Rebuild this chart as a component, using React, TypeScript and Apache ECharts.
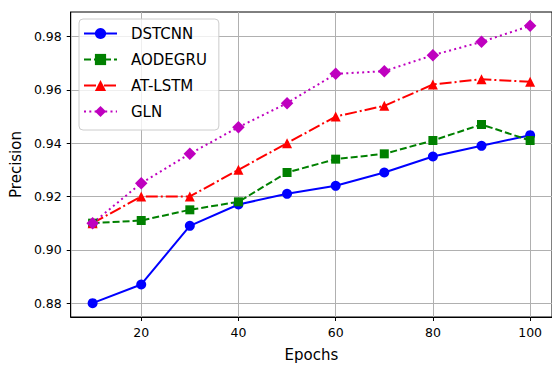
import React, { useEffect, useRef } from "react";
import * as echarts from "echarts";

const epochs = [10, 20, 30, 40, 50, 60, 70, 80, 90, 100];
const dstcnn = [0.88, 0.887, 0.909, 0.917, 0.921, 0.924, 0.929, 0.935, 0.939, 0.943];
const aodegru = [0.91, 0.911, 0.915, 0.918, 0.929, 0.934, 0.936, 0.941, 0.947, 0.941];
const atlstm = [0.91, 0.92, 0.92, 0.93, 0.94, 0.95, 0.954, 0.962, 0.964, 0.963];
const gln = [0.91, 0.925, 0.936, 0.946, 0.955, 0.966, 0.967, 0.973, 0.978, 0.984];
const xTicks = [20, 40, 60, 80, 100];
const yTicks = [0.88, 0.9, 0.92, 0.94, 0.96, 0.98];

const FONT = "DejaVu Sans";

function pairs(vals: number[]) {
  return epochs.map((e, i) => [e, vals[i]]);
}

export default function App() {
  const ref = useRef<HTMLDivElement>(null);
  useEffect(() => {
    if (!ref.current) return;
    const chart = echarts.init(ref.current, undefined, { renderer: "svg" });
    const mk = (name: string, data: number[], color: string, symbol: string, size: number, type: any) => ({
      name,
      type: "line",
      data: pairs(data),
      symbol,
      symbolSize: size,
      showSymbol: true,
      itemStyle: { color },
      lineStyle: { color, width: 2, type },
      emphasis: { disabled: true },
    });
    chart.setOption({
      animation: false,
      grid: {
        left: 70,
        top: 12,
        right: -4,
        bottom: 46,
        show: true,
        borderColor: "#000",
        borderWidth: 1,
        backgroundColor: "transparent",
      },
      legend: {
        orient: "vertical",
        left: 79,
        top: 19,
        padding: [7, 12, 11, 4],
        itemWidth: 33,
        itemHeight: 14,
        itemGap: 11,
        backgroundColor: "rgba(255,255,255,0.8)",
        borderColor: "#cccccc",
        borderWidth: 1,
        borderRadius: 4,
        textStyle: { fontFamily: FONT, fontSize: 15, color: "#000", padding: [0, 0, 0, 9] },
        data: ["DSTCNN", "AODEGRU", "AT-LSTM", "GLN"],
      },
      xAxis: {
        type: "value",
        min: 5.5,
        max: 104.5,
        name: "Epochs",
        nameLocation: "middle",
        nameGap: 30,
        nameTextStyle: { fontFamily: FONT, fontSize: 15, color: "#000" },
        axisLine: { show: true, lineStyle: { color: "#000", width: 1 } },
        axisTick: { show: true, length: 4, customValues: xTicks, lineStyle: { color: "#000" } },
        axisLabel: {
          customValues: xTicks,
          fontFamily: FONT,
          fontSize: 12.5,
          color: "#000",
          margin: 9,
        },
        splitLine: { show: true, lineStyle: { color: "#b0b0b0", width: 1 } },
      },
      yAxis: {
        type: "value",
        min: 0.8748,
        max: 0.9892,
        name: "Precision",
        nameLocation: "middle",
        nameGap: 46,
        nameTextStyle: { fontFamily: FONT, fontSize: 15, color: "#000" },
        axisLine: { show: true, lineStyle: { color: "#000", width: 1 } },
        axisTick: { show: true, length: 4, customValues: yTicks, lineStyle: { color: "#000" } },
        axisLabel: {
          customValues: yTicks,
          fontFamily: FONT,
          fontSize: 12.5,
          color: "#000",
          margin: 9,
          formatter: (v: number) => v.toFixed(2),
        },
        splitLine: { show: true, lineStyle: { color: "#b0b0b0", width: 1 } },
      },
      series: [
        mk("DSTCNN", dstcnn, "#0000ff", "circle", 10, "solid"),
        mk("AODEGRU", aodegru, "#008000", "rect", 9, [7, 3]),
        mk("AT-LSTM", atlstm, "#ff0000", "triangle", 10, [12, 3, 2, 3]),
        mk("GLN", gln, "#bf00bf", "diamond", 12.5, [2, 3.3]),
      ],
    });
    return () => chart.dispose();
  }, []);
  return (
    <div
      ref={ref}
      style={{ position: "fixed", left: 0, top: 0, width: 552, height: 367, background: "#fff" }}
    />
  );
}
